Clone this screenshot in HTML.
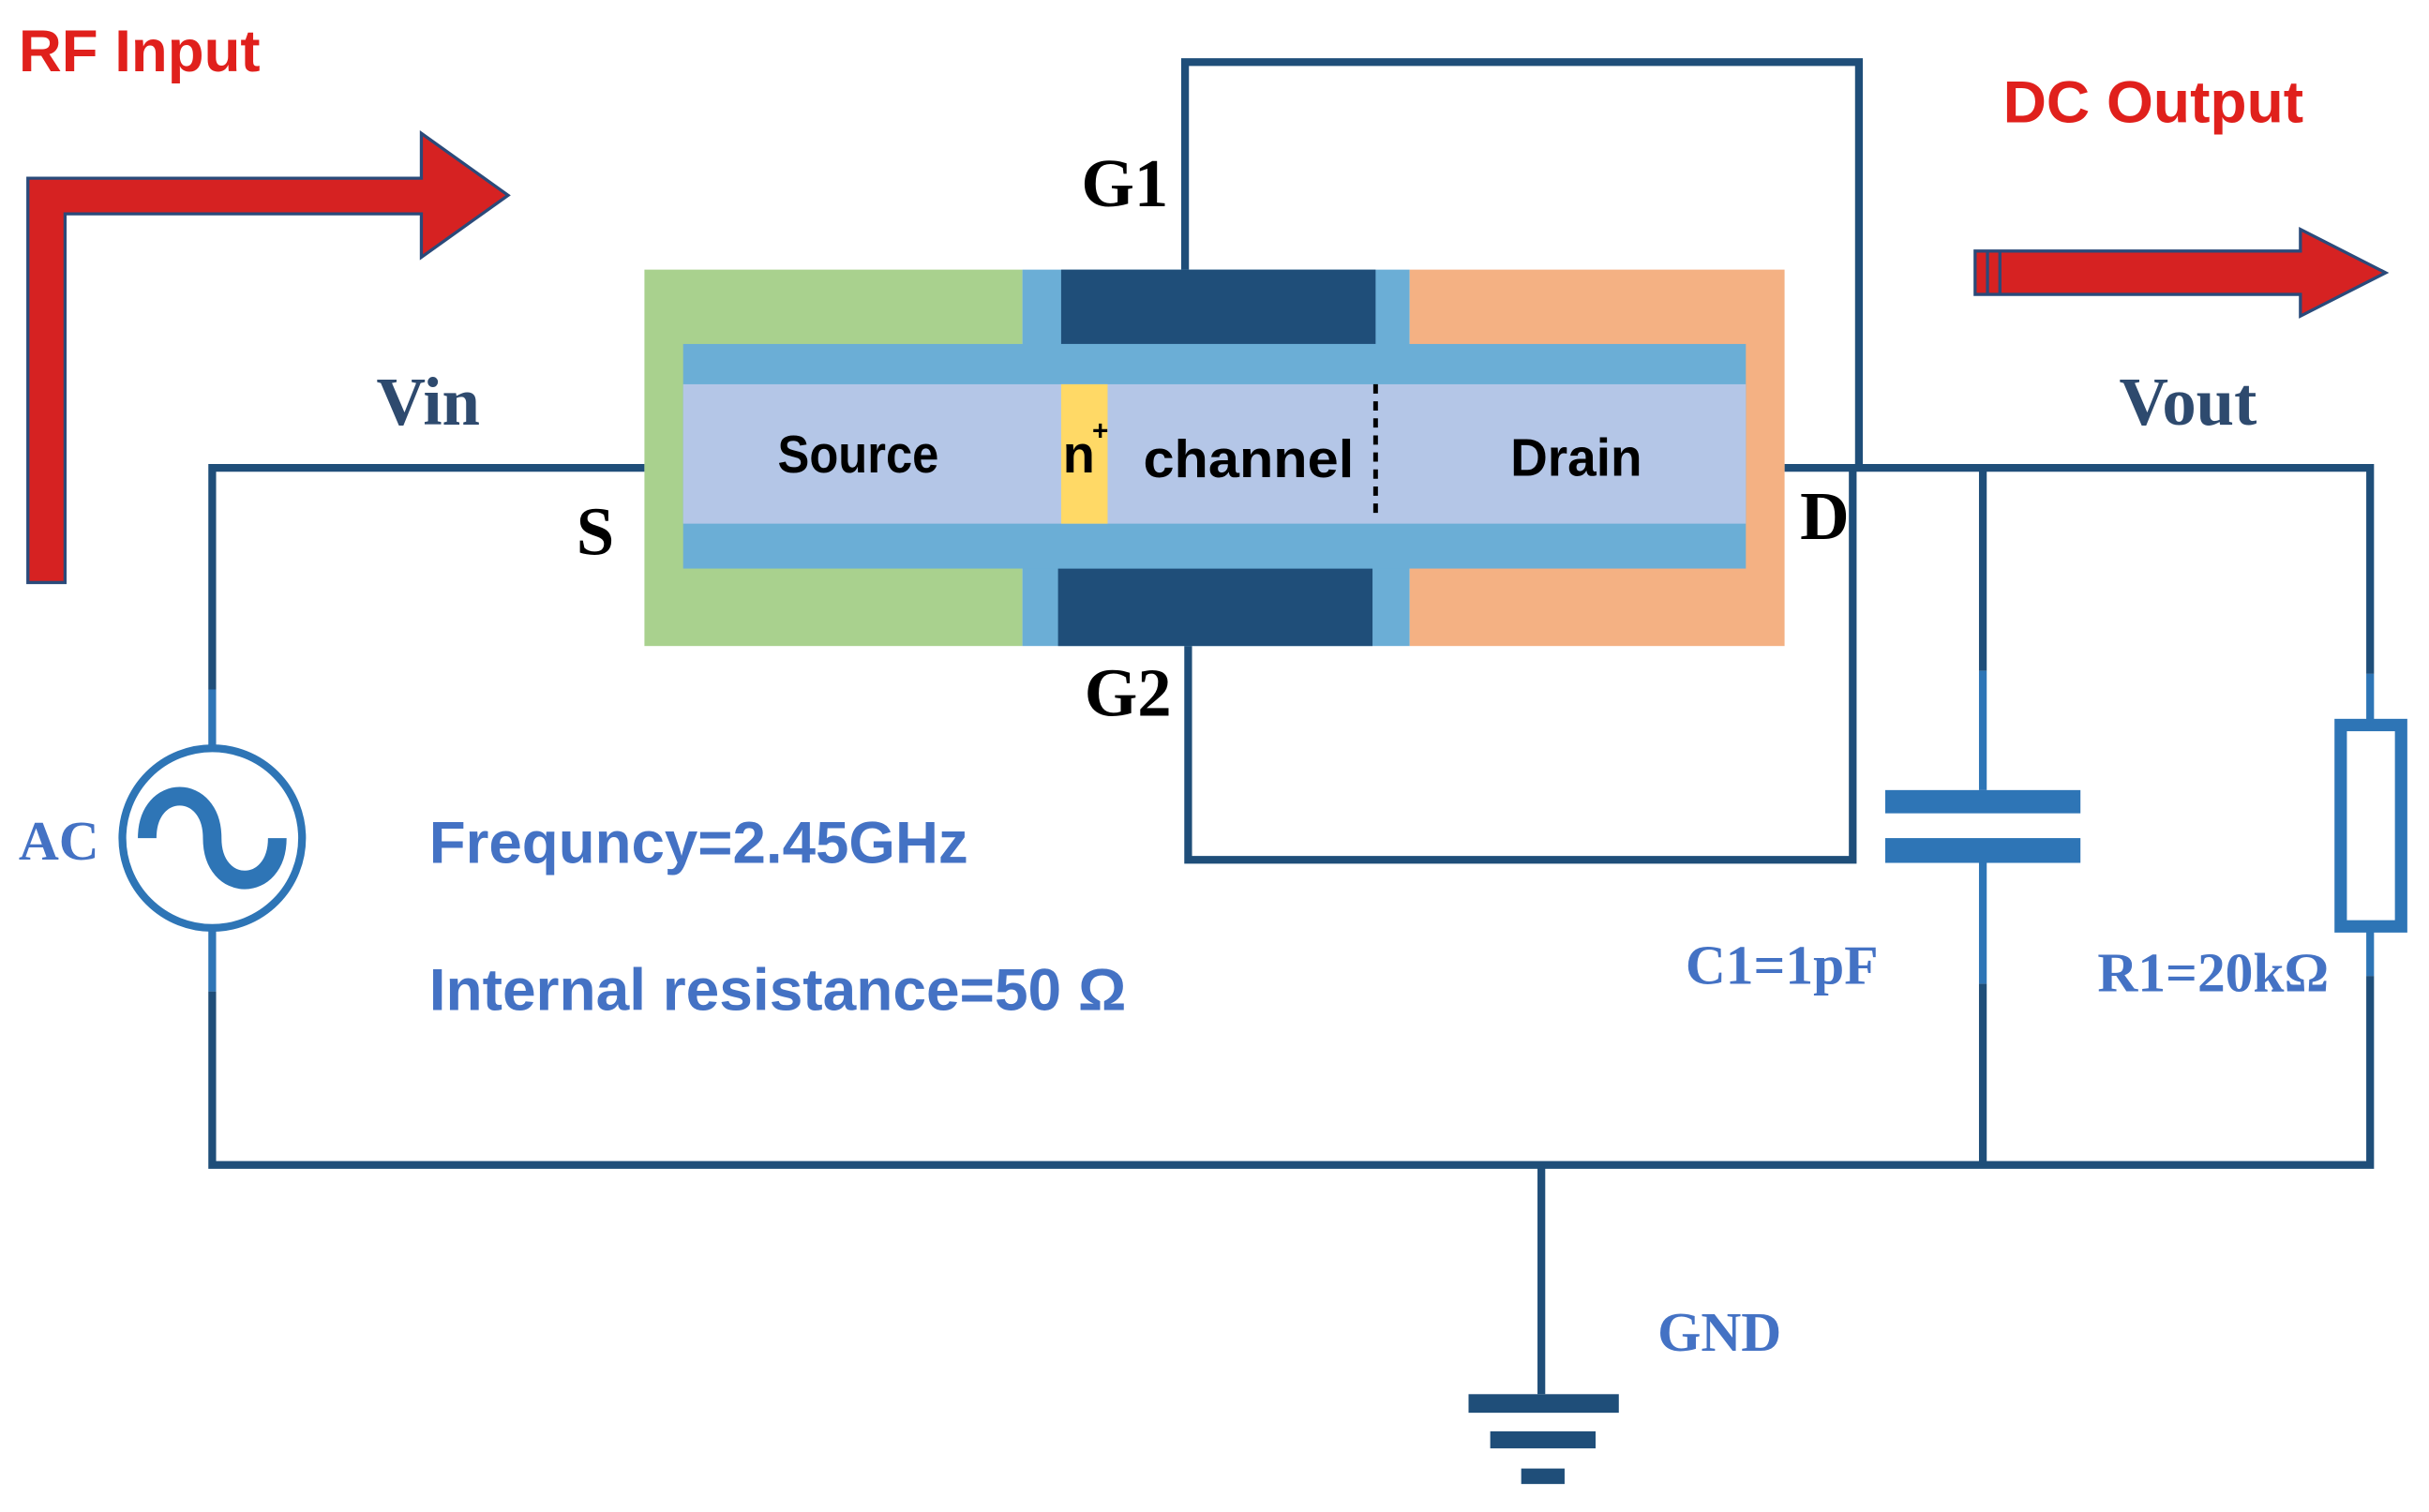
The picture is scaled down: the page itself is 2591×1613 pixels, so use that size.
<!DOCTYPE html>
<html><head><meta charset="utf-8"><style>html,body{margin:0;padding:0;background:#fff}svg{display:block}</style></head>
<body>
<svg width="2591" height="1613" viewBox="0 0 1568 976" xmlns="http://www.w3.org/2000/svg">
<rect width="1568" height="976" fill="#fff"/>
<text x="12" y="46" font-family="Liberation Sans, sans-serif" font-weight="bold" font-size="38" fill="#e0201c" textLength="156" lengthAdjust="spacingAndGlyphs">RF Input</text>
<path d="M18,115 L272,115 L272,86 L328,126 L272,166 L272,138 L42,138 L42,376 L18,376 Z" fill="#d62222" stroke="#2a4a7a" stroke-width="2"/>
<text x="1293" y="79" font-family="Liberation Sans, sans-serif" font-weight="bold" font-size="38" fill="#e0201c" textLength="194" lengthAdjust="spacingAndGlyphs">DC Output</text>
<path d="M1275,162 L1485,162 L1485,148 L1540,176 L1485,204 L1485,190 L1275,190 Z" fill="#d62222" stroke="#2a4a7a" stroke-width="2"/>
<line x1="1283" y1="162" x2="1283" y2="190" stroke="#2a4a7a" stroke-width="2"/>
<line x1="1291" y1="162" x2="1291" y2="190" stroke="#2a4a7a" stroke-width="2"/>
<g fill="none" stroke="#1f4e79" stroke-width="5">
<polyline points="416,302 137,302 137,445"/>
<polyline points="137,640 137,752 1530,752 1530,630"/>
<polyline points="765,174 765,40 1200,40 1200,302"/>
<polyline points="767,417 767,555 1196,555 1196,302"/>
<polyline points="1152,302 1530,302 1530,435"/>
<line x1="1280" y1="302" x2="1280" y2="433"/>
<line x1="1280" y1="635" x2="1280" y2="752"/>
<line x1="995" y1="752" x2="995" y2="900"/>
</g>
<line x1="1280" y1="433" x2="1280" y2="510" stroke="#2e75b6" stroke-width="5"/>
<line x1="1280" y1="557" x2="1280" y2="635" stroke="#2e75b6" stroke-width="5"/>
<line x1="1530" y1="435" x2="1530" y2="465" stroke="#2e75b6" stroke-width="5"/>
<line x1="1530" y1="600" x2="1530" y2="630" stroke="#2e75b6" stroke-width="5"/>
<line x1="137" y1="445" x2="137" y2="483" stroke="#2e75b6" stroke-width="5"/>
<line x1="137" y1="600" x2="137" y2="640" stroke="#2e75b6" stroke-width="5"/>
<rect x="1217" y="510" width="126" height="15" fill="#2e75b6"/>
<rect x="1217" y="541" width="126" height="16" fill="#2e75b6"/>
<rect x="1511" y="468" width="39" height="130" fill="#fff" stroke="#2e75b6" stroke-width="8"/>
<circle cx="137" cy="541" r="58" fill="#fff" stroke="#2e75b6" stroke-width="5"/>
<path d="M95,541 C95,505 137,505 137,541 C137,577 179,577 179,541" fill="none" stroke="#2e75b6" stroke-width="12"/>
<rect x="948" y="900" width="97" height="12" fill="#1f4e79"/>
<rect x="962" y="924" width="68" height="11" fill="#1f4e79"/>
<rect x="982" y="948" width="28" height="10" fill="#1f4e79"/>
<rect x="416" y="174" width="244" height="243" fill="#a9d18e"/>
<rect x="660" y="174" width="250" height="243" fill="#6baed6"/>
<rect x="910" y="174" width="242" height="243" fill="#f4b183"/>
<rect x="685" y="174" width="203" height="48" fill="#1f4e79"/>
<rect x="683" y="367" width="203" height="50" fill="#1f4e79"/>
<rect x="441" y="222" width="686" height="145" fill="#6baed6"/>
<rect x="441" y="248" width="686" height="90" fill="#b4c6e7"/>
<rect x="685" y="248" width="30" height="90" fill="#ffd966"/>
<line x1="888" y1="248" x2="888" y2="332" stroke="#000" stroke-width="3" stroke-dasharray="6,5"/>
<g font-family="Liberation Sans, sans-serif" font-size="34" fill="#000" font-weight="bold">
<text x="502" y="305" textLength="104" lengthAdjust="spacingAndGlyphs">Source</text>
<text x="686" y="305">n</text><text x="705" y="284" font-size="18">+</text>
<text x="738" y="308" textLength="136" lengthAdjust="spacingAndGlyphs">channel</text>
<text x="975" y="307" textLength="85" lengthAdjust="spacingAndGlyphs">Drain</text>
</g>
<g font-family="Liberation Serif, serif" font-weight="bold" fill="#000" font-size="44">
<text x="372" y="358">S</text>
<text x="1162" y="348">D</text>
<text x="698" y="133">G1</text>
<text x="700" y="462">G2</text>
</g>
<g font-family="Liberation Serif, serif" font-weight="bold" fill="#2e4a6e" font-size="44">
<text x="243" y="274">Vin</text>
<text x="1368" y="274">Vout</text>
</g>
<g font-family="Liberation Serif, serif" font-weight="bold" fill="#4472c4" font-size="36">
<text x="12" y="555">AC</text>
<text x="1088" y="635">C1=1pF</text>
<text x="1354" y="640">R1=20kΩ</text>
<text x="1070" y="872">GND</text>
</g>
<g font-family="Liberation Sans, sans-serif" font-weight="bold" fill="#4472c4" font-size="38">
<text x="277" y="557" textLength="348" lengthAdjust="spacingAndGlyphs">Frequncy=2.45GHz</text>
<text x="277" y="652" textLength="450" lengthAdjust="spacingAndGlyphs">Internal resistance=50 Ω</text>
</g>
</svg>
</body></html>
